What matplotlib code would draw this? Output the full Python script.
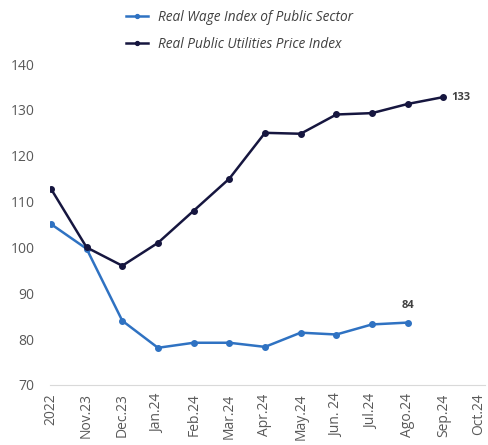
import matplotlib
matplotlib.use("Agg")
import matplotlib.pyplot as plt

plt.rcParams['font.family'] = ['Open Sans', 'DejaVu Sans']

meses = ["2022", "Nov.23", "Dec.23", "Jan.24", "Feb.24", "Mar.24", "Apr.24",
         "May.24", "Jun. 24", "Jul.24", "Ago.24", "Sep.24", "Oct.24"]
salarios = [105.1, 99.7, 84.0, 78.1, 79.2, 79.2, 78.3, 81.4, 81.0, 83.2, 83.6]
precos = [112.8, 100.0, 96.0, 101.0, 108.0, 115.0, 125.0, 124.8, 129.0, 129.3, 131.3, 132.8]

cor_sal = "#2f72c2"
cor_pre = "#16163f"

fig = plt.figure(figsize=(4.89, 4.45), dpi=100)
ax = fig.add_axes([0.102, 0.135, 0.89, 0.721])

x_sal = list(range(len(salarios)))
x_pre = list(range(len(precos)))
ax.plot(x_sal, salarios, color=cor_sal, lw=1.8, marker="o", ms=4,
        label="Real Wage Index of Public Sector")
ax.plot(x_pre, precos, color=cor_pre, lw=1.8, marker="o", ms=4,
        label="Real Public Utilities Price Index")

ax.annotate(f"{salarios[-1]:.0f}", (x_sal[-1], salarios[-1]), xytext=(0, 8),
            textcoords="offset points", ha="center", va="bottom",
            fontsize=8, fontweight="bold", color="#404040")
ax.annotate(f"{precos[-1]:.0f}", (x_pre[-1], precos[-1]), xytext=(6, 0),
            textcoords="offset points", ha="left", va="center",
            fontsize=8, fontweight="bold", color="#404040")

ax.set_xlim(-0.03, 12.17)
ax.set_ylim(70, 140)
ax.set_yticks(range(70, 141, 10))
ax.set_xticks(range(len(meses)))
ax.set_xticklabels(meses, rotation=90)
ax.tick_params(axis="both", length=0, labelsize=10, labelcolor="#595959")
ax.tick_params(axis="y", pad=11)
ax.tick_params(axis="x", pad=6)
for s in ["top", "right", "left"]:
    ax.spines[s].set_visible(False)
ax.spines["bottom"].set_color("#d9d9d9")

leg = fig.legend(loc="upper center", bbox_to_anchor=(0.49, 1.005), frameon=False,
                 ncol=1, prop={"style": "italic", "size": 9.8}, labelspacing=0.85,
                 handlelength=1.6, markerscale=0.7)
for t in leg.get_texts():
    t.set_color("#404040")

fig.savefig("out.png", dpi=100)
